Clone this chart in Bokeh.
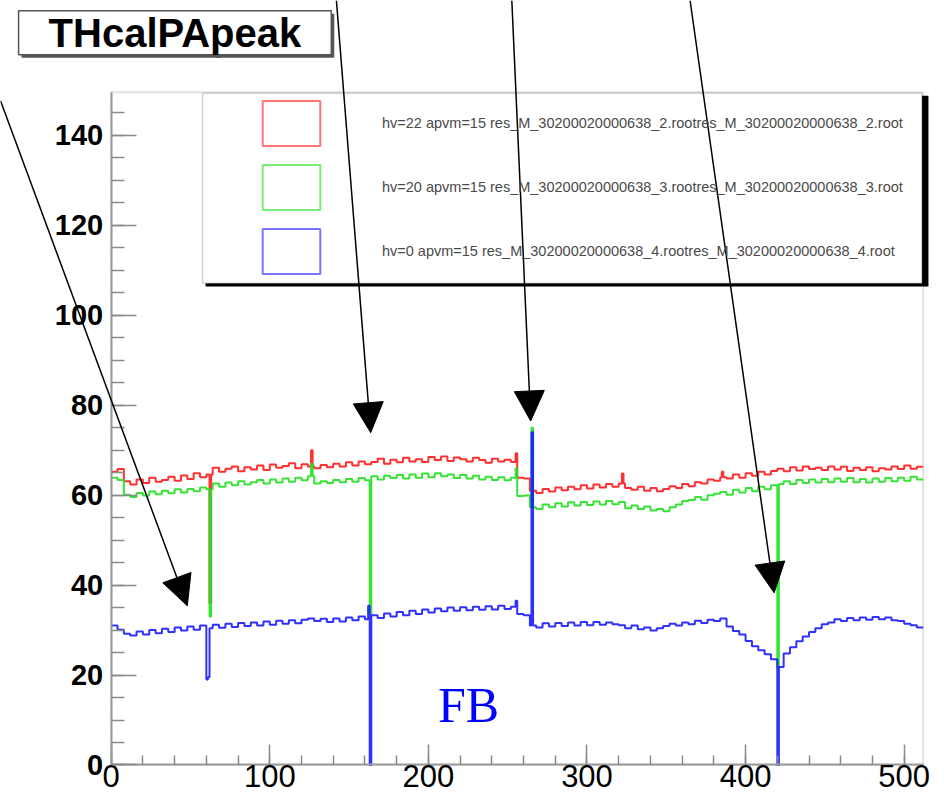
import numpy as np
from bokeh.plotting import figure
from bokeh.models import (Range1d, SingleIntervalTicker, Arrow, NormalHead, Label,
                          BoxAnnotation, Legend, LegendItem)
from bokeh.embed import file_html
from bokeh.resources import INLINE

# ---------------- data ----------------
CH_PER_VALUE = 4   # each listed value covers 4 channels (0..511)

red_vals = [65.2, 65.8, 63.1, 62.4, 63.5, 62.7, 63.9, 63.0, 63.4, 64.1, 63.2, 64.4, 63.6, 64.9, 64.0, 64.6,
            66.1, 65.2, 65.9, 66.4, 65.3, 66.2, 65.7, 66.6, 65.6, 66.8, 66.1, 66.5, 67.1, 66.0, 66.9, 66.4,
            66.0, 66.7, 66.2, 67.0, 66.4, 67.3, 66.6, 67.5, 66.9, 67.4, 68.1, 67.0, 67.9, 67.3, 68.3, 67.5,
            68.0, 67.4, 68.5, 67.8, 68.6, 67.6, 68.4, 68.0, 67.5, 68.3, 67.8, 67.2, 68.1, 67.5, 67.9, 67.4,
            63.9, 63.7, 61.0, 60.5, 61.4, 60.8, 61.7, 61.1, 61.9, 61.3, 62.2, 61.5, 62.4, 61.7, 62.5, 61.9,
            62.6, 61.6, 61.2, 61.9, 61.0, 61.6, 60.9, 61.4, 62.0, 61.6, 62.5, 62.0, 62.9, 62.6, 63.5, 63.2,
            64.0, 63.7, 64.6, 63.9, 64.9, 64.3, 65.2, 64.6, 65.4, 65.9, 65.3, 66.2, 65.5, 66.4, 65.8, 66.1,
            65.6, 66.4, 65.7, 66.3, 65.4, 66.1, 65.6, 66.2, 65.3, 66.0, 65.7, 66.4, 65.8, 66.6, 65.9, 66.3]
green_vals = [63.9, 63.4, 60.1, 59.6, 60.5, 59.9, 60.8, 60.2, 61.0, 60.4, 61.3, 60.6, 61.4, 60.9, 61.7, 61.3,
              62.6, 61.9, 62.8, 62.2, 63.1, 62.4, 62.9, 63.4, 62.6, 63.5, 62.8, 63.7, 63.0, 63.9, 63.3, 64.2,
              62.6, 63.1, 62.7, 63.4, 62.9, 63.6, 63.0, 63.8, 63.3, 64.2, 63.5, 64.3, 63.8, 64.5, 63.7, 64.6,
              63.9, 64.8, 64.0, 64.9, 64.2, 64.6, 63.8, 64.5, 63.7, 64.3, 63.5, 64.1, 63.4, 64.0, 63.3, 63.9,
              59.8, 59.9, 57.3, 56.9, 57.9, 57.3, 58.2, 57.5, 58.4, 57.7, 58.5, 57.8, 58.6, 57.9, 58.7, 58.0,
              58.5, 57.1, 57.7, 56.9, 57.5, 56.6, 56.9, 56.4, 57.3, 57.9, 58.7, 58.9, 59.6, 59.0, 60.0, 60.3,
              60.7, 60.1, 61.2, 60.6, 61.6, 60.9, 61.9, 61.3, 62.2, 62.5, 63.1, 62.5, 63.4, 62.7, 63.5, 62.8,
              63.6, 62.9, 63.7, 63.0, 63.8, 62.9, 63.6, 62.8, 63.7, 63.0, 63.8, 63.1, 63.9, 63.2, 64.1, 63.5]
blue_vals = [31.0, 30.1, 29.2, 28.8, 29.7, 29.0, 30.0, 29.3, 30.3, 29.6, 30.6, 29.9, 30.8, 30.1, 31.0, 30.4,
             31.2, 30.5, 31.4, 30.7, 31.6, 30.9, 31.7, 31.0, 31.9, 31.2, 32.1, 31.4, 32.2, 31.5, 32.3, 32.6,
             32.0, 32.5, 31.8, 32.6, 31.9, 32.8, 32.2, 33.0, 32.4, 33.3, 32.7, 33.7, 33.0, 34.0, 33.3, 34.3,
             33.6, 34.6, 33.9, 34.8, 34.2, 35.0, 34.3, 35.1, 34.4, 35.2, 34.5, 35.3, 34.6, 35.4, 34.7, 35.2,
             33.6, 33.3, 31.0, 30.6, 31.5, 30.8, 31.6, 30.9, 31.7, 31.0, 31.8, 31.1, 31.8, 31.2, 31.7, 31.3,
             31.1, 30.4, 31.0, 30.2, 30.6, 29.9, 30.4, 30.9, 31.4, 31.0, 31.7, 31.3, 32.1, 31.6, 32.3, 32.0,
             32.6, 30.8, 29.8, 29.0, 27.6, 26.4, 25.5, 24.6, 23.5, 21.8, 24.8, 26.2, 27.5, 28.6, 29.6, 30.4,
             31.3, 31.7, 32.4, 32.0, 32.7, 32.2, 32.8, 32.3, 32.9, 32.4, 32.8, 32.2, 32.0, 31.4, 31.1, 30.6]

# single-channel spikes / bumps
red_spike_ch = [62, 126, 255, 322, 385]
red_spike_val = [36.0, 70.0, 69.3, 64.8, 65.2]
green_spike_ch = [62, 126, 163, 255, 265, 420]
green_spike_val = [33.0, 67.0, 33.5, 66.0, 75.0, 21.5]
blue_spike_ch = [60, 61, 162, 163, 255, 265, 420]
blue_spike_val = [19.0, 19.5, 35.4, 0.0, 36.5, 74.0, 0.0]

labels = ["hv=22 apvm=15 res_M_30200020000638_2.rootres_M_30200020000638_2.root",
          "hv=20 apvm=15 res_M_30200020000638_3.rootres_M_30200020000638_3.root",
          "hv=0 apvm=15 res_M_30200020000638_4.rootres_M_30200020000638_4.root"]
colors = ["#ff1a1a", "#22e022", "#1a1aff"]

title_text = "THcalPApeak"
note_text = "FB"
note_pos = (206, 13.4)
# arrows: (x_start, y_start, x_tip, y_tip) in data units
arrows = [(-69.8, 147.7, 48, 35.4),
          (142, 170.0, 163.6, 73.9),
          (252.6, 170.0, 264.5, 76.5),
          (365, 170.0, 418, 38.3)]

X_MAX, Y_MAX = 512, 149.6
# visible window (data units) -- the frame covers the whole canvas so the
# arrows and the title box can reach outside the histogram box
VIEW_X = (-69.8, 522.9)
VIEW_Y = (-8.34, 170.0)


def expand(vals, ch, sv):
    a = np.repeat(np.array(vals, dtype=float), CH_PER_VALUE)
    a[np.array(ch)] = sv
    return a


series = [expand(red_vals, red_spike_ch, red_spike_val),
          expand(green_vals, green_spike_ch, green_spike_val),
          expand(blue_vals, blue_spike_ch, blue_spike_val)]

# ---------------- figure ----------------
W, H = 940, 802
p = figure(width=W, height=H, output_backend="svg", toolbar_location=None,
           x_range=Range1d(*VIEW_X), y_range=Range1d(*VIEW_Y),
           min_border=0)
p.xgrid.visible = False
p.ygrid.visible = False
p.outline_line_color = None
p.background_fill_color = "white"
p.border_fill_color = "white"

p.xaxis.fixed_location = 0
p.yaxis.fixed_location = 0
p.xaxis.bounds = (0, X_MAX)
p.yaxis.bounds = (0, Y_MAX)
p.xaxis.ticker = SingleIntervalTicker(interval=100, num_minor_ticks=5)
p.yaxis.ticker = SingleIntervalTicker(interval=20, num_minor_ticks=4)
for ax in (p.xaxis[0], p.yaxis[0]):
    ax.axis_line_color = "#9a9a9a"
    ax.axis_line_width = 2
    ax.major_tick_line_color = "#8a8a8a"
    ax.minor_tick_line_color = "#8a8a8a"
    ax.major_tick_line_width = 1.5
    ax.minor_tick_line_width = 1.5
    ax.major_tick_out = 0
    ax.minor_tick_out = 0
    ax.major_label_text_color = "black"
    ax.major_label_text_font = "Liberation Sans"
p.xaxis.major_tick_in = 20
p.xaxis.minor_tick_in = 9
p.yaxis.major_tick_in = 25
p.yaxis.minor_tick_in = 13
p.xaxis.major_label_text_font_size = "31px"
p.xaxis.major_label_standoff = 0
p.yaxis.major_label_text_font_size = "29px"
p.yaxis.major_label_text_font_style = "bold"
p.yaxis.major_label_standoff = 8

# histogram box (top and right edges)
p.add_layout(BoxAnnotation(left=0, right=X_MAX, bottom=0, top=Y_MAX, fill_alpha=0,
                           line_color="#9a9a9a", line_width=2, level="underlay"))

edges = np.arange(0, X_MAX + 1)
for vals, c in zip(series, colors):
    p.step(edges, np.append(vals, vals[-1]), mode="after", line_color=c, line_width=2, line_alpha=0.9)

# legend box with shadow
p.add_layout(BoxAnnotation(left=59.5, right=515.3, top=148.8, bottom=106.4,
                           fill_color="black", fill_alpha=1, line_alpha=0))
p.add_layout(BoxAnnotation(left=57.6, right=511.2, top=149.4, bottom=107.1,
                           fill_color="white", fill_alpha=1, line_color="#666666", line_width=1.5))

# legend entries are drawn as open boxes (ROOT "f" style)
dummies = [p.rect(x=[np.nan], y=[np.nan], width=1, height=1, fill_alpha=0, line_color=c,
                  line_width=2, line_alpha=0.6) for c in colors]
legend = Legend(items=[LegendItem(label=l, renderers=[r]) for l, r in zip(labels, dummies)],
                location=(252, H - 282), margin=0, padding=3, spacing=8,
                glyph_width=72, glyph_height=56, label_standoff=55, label_width=520,
                label_text_font="Liberation Sans", label_text_font_size="14.5px",
                label_text_color="#4a4a4a", background_fill_alpha=0, border_line_alpha=0)
p.add_layout(legend)

# title box with shadow
pad = dict(left=30, right=30, top=0, bottom=0)
TITLE_X, TITLE_Y = -58.4, 167.7
p.add_layout(Label(x=TITLE_X, y=TITLE_Y, text=title_text, text_align="left", text_baseline="top",
                   text_font="Liberation Sans", text_font_size="40px", text_font_style="bold",
                   text_color="#555555", background_fill_color="#555555", padding=pad,
                   x_offset=3, y_offset=-3))
p.add_layout(Label(x=TITLE_X, y=TITLE_Y, text=title_text, text_align="left", text_baseline="top",
                   text_font="Liberation Sans", text_font_size="40px", text_font_style="bold",
                   text_color="black", background_fill_color="white",
                   border_line_color="#555555", border_line_width=1.5, padding=pad))

p.add_layout(Label(x=note_pos[0], y=note_pos[1], text=note_text, text_baseline="alphabetic",
                   text_font="Liberation Serif", text_font_size="50px", text_color="#0000ff"))

for xs, ys, xe, ye in arrows:
    p.add_layout(Arrow(end=NormalHead(size=30, fill_color="black", line_color="black"),
                       x_start=xs, y_start=ys, x_end=xe, y_end=ye,
                       line_color="black", line_width=1.5))

open("out.html", "w").write(file_html(p, INLINE))
